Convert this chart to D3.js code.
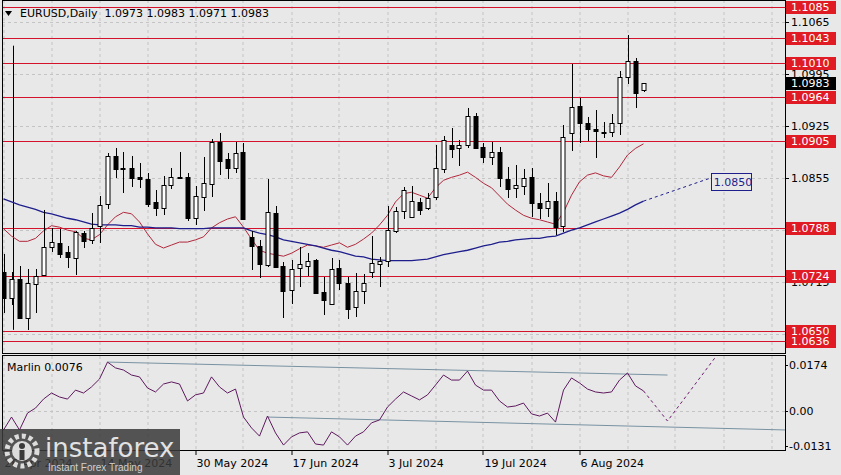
<!DOCTYPE html>
<html>
<head>
<meta charset="utf-8">
<style>
  body { margin: 0; background: #e8e8e8; }
  svg { display: block; font-family: "DejaVu Sans", sans-serif; }
  .axis text { font-size: 11px; }
</style>
<script src="https://d3js.org/d3.v7.min.js"></script>
</head>
<body>
<svg width="841" height="475"></svg>
<script>
// EURUSD daily, 26 Apr 2024 .. 16 Aug 2024 (one entry per bar)
var opens  = [1.0729,1.0694,1.0720,1.0667,1.0713,1.0725,1.0762,1.0768,1.0756,1.0748,1.0781,1.0772,1.0791,1.0820,1.0885,1.0869,1.0869,1.0856,1.0854,1.0823,
              1.0815,1.0846,1.0857,1.0856,1.0801,1.0829,1.0847,1.0904,1.0881,1.0869,1.0890,1.0776,1.0764,1.0738,1.0808,1.0737,1.0705,1.0734,1.0737,1.0745,
              1.0702,1.0686,1.0734,1.0714,1.0682,1.0703,1.0729,1.0740,1.0744,1.0784,1.0811,1.0803,1.0823,1.0815,1.0830,1.0867,1.0899,1.0895,1.0899,1.0938,
              1.0897,1.0883,1.0890,1.0854,1.0842,1.0844,1.0856,1.0822,1.0815,1.0824,1.0791,1.0916,1.0952,1.0929,1.0921,1.0917,1.0917,1.0929,1.0991,1.1012,1.0973];
var highs  = [1.0753,1.0729,1.0737,1.0733,1.0733,1.0812,1.0788,1.0787,1.0764,1.0784,1.0784,1.0808,1.0831,1.0889,1.0895,1.0890,1.0885,1.0875,1.0862,1.0839,
              1.0858,1.0869,1.0890,1.0862,1.0844,1.0883,1.0908,1.0916,1.0889,1.0904,1.0902,1.0784,1.0772,1.0854,1.0817,1.0742,1.0745,1.0762,1.0754,1.0746,
              1.0722,1.0748,1.0745,1.0722,1.0727,1.0726,1.0777,1.0749,1.0817,1.0816,1.0843,1.0844,1.0828,1.0835,1.0899,1.0912,1.0922,1.0906,1.0949,1.0943,
              1.0902,1.0904,1.0897,1.0870,1.0873,1.0867,1.0869,1.0835,1.0848,1.0836,1.0926,1.1008,1.0963,1.0937,1.0947,1.0930,1.0941,1.0999,1.1047,1.1016,1.0983];
var lows   = [1.0674,1.0684,1.0666,1.0651,1.0674,1.0725,1.0756,1.0748,1.0734,1.0725,1.0761,1.0766,1.0768,1.0813,1.0855,1.0835,1.0843,1.0842,1.0816,1.0804,
              1.0805,1.0840,1.0855,1.0797,1.0792,1.0811,1.0830,1.0859,1.0854,1.0862,1.0799,1.0731,1.0721,1.0735,1.0735,1.0667,1.0686,1.0709,1.0723,1.0701,
              1.0671,1.0684,1.0705,1.0666,1.0668,1.0686,1.0721,1.0709,1.0735,1.0781,1.0800,1.0801,1.0805,1.0812,1.0826,1.0862,1.0882,1.0871,1.0895,1.0894,
              1.0875,1.0873,1.0843,1.0828,1.0828,1.0832,1.0803,1.0800,1.0803,1.0779,1.0783,1.0891,1.0902,1.0905,1.0882,1.0909,1.0910,1.0913,1.0981,1.0949,1.0971];
var closes = [1.0694,1.0719,1.0667,1.0714,1.0723,1.0762,1.0769,1.0753,1.0749,1.0783,1.0770,1.0788,1.0819,1.0885,1.0867,1.0868,1.0855,1.0854,1.0820,1.0815,
              1.0846,1.0856,1.0856,1.0801,1.0831,1.0848,1.0904,1.0878,1.0869,1.0889,1.0800,1.0764,1.0740,1.0809,1.0735,1.0703,1.0733,1.0740,1.0744,1.0701,
              1.0691,1.0733,1.0714,1.0679,1.0703,1.0714,1.0741,1.0744,1.0785,1.0811,1.0839,1.0824,1.0812,1.0828,1.0869,1.0906,1.0894,1.0899,1.0938,1.0895,
              1.0883,1.0890,1.0855,1.0840,1.0846,1.0855,1.0822,1.0815,1.0824,1.0789,1.0910,1.0951,1.0929,1.0921,1.0918,1.0916,1.0929,1.0991,1.1012,1.0969,1.0983];

// fast moving average (red) and slow moving average (blue)
var fastMa = [1.0787,1.0777,1.0770,1.0770,1.0774,1.0784,1.0791,1.0789,1.0785,1.0783,1.0774,1.0772,1.0779,1.0792,1.0803,1.0809,1.0807,1.0796,1.0780,1.0766,
              1.0761,1.0765,1.0769,1.0769,1.0772,1.0776,1.0788,1.0795,1.0800,1.0803,1.0789,1.0773,1.0758,1.0754,1.0752,1.0750,1.0754,1.0760,1.0765,1.0764,
              1.0762,1.0765,1.0768,1.0762,1.0766,1.0773,1.0781,1.0792,1.0805,1.0823,1.0834,1.0836,1.0832,1.0828,1.0842,1.0852,1.0856,1.0859,1.0863,1.0856,
              1.0848,1.0842,1.0831,1.0820,1.0812,1.0805,1.0801,1.0799,1.0796,1.0793,1.0809,1.0832,1.0850,1.0859,1.0862,1.0858,1.0856,1.0870,1.0886,1.0895,1.0901];
var slowMa = [1.0827,1.0823,1.0819,1.0816,1.0813,1.0809,1.0807,1.0804,1.0801,1.0799,1.0796,1.0793,1.0792,1.0792,1.0792,1.0791,1.0791,1.0789,1.0789,1.0788,
              1.0788,1.0788,1.0787,1.0787,1.0787,1.0787,1.0788,1.0788,1.0788,1.0788,1.0788,1.0784,1.0781,1.0779,1.0776,1.0772,1.0770,1.0768,1.0766,1.0764,
              1.0761,1.0758,1.0756,1.0753,1.0750,1.0749,1.0746,1.0745,1.0744,1.0744,1.0744,1.0744,1.0745,1.0746,1.0749,1.0752,1.0754,1.0756,1.0758,1.0761,
              1.0764,1.0766,1.0769,1.0770,1.0772,1.0773,1.0774,1.0774,1.0776,1.0777,1.0781,1.0785,1.0788,1.0792,1.0796,1.0800,1.0804,1.0808,1.0813,1.0819,1.0824];
var slowForecastBars = [80, 87, 90];
var slowForecast = [1.0824, 1.0850, 1.0861];
var targetLabel = "1.0850";

// Marlin oscillator
var marlin = [-0.0072,-0.0023,-0.0072,-0.0008,0.0011,0.0045,0.0068,0.0053,0.0045,0.0079,0.0068,0.0091,0.0121,0.0185,0.0163,0.0155,0.0136,0.0129,0.0087,0.0072,
              0.0102,0.0110,0.0102,0.0038,0.0061,0.0068,0.0129,0.0091,0.0068,0.0083,-0.0023,-0.0064,-0.0095,-0.0019,-0.0083,-0.0129,-0.0098,-0.0083,-0.0079,-0.0125,
              -0.0129,-0.0079,-0.0098,-0.0129,-0.0095,-0.0079,-0.0045,-0.0034,0.0015,0.0045,0.0072,0.0057,0.0042,0.0061,0.0098,0.0136,0.0117,0.0117,0.0151,0.0098,
              0.0079,0.0079,0.0038,0.0015,0.0019,0.0030,-0.0011,-0.0019,-0.0008,-0.0042,0.0079,0.0125,0.0106,0.0083,0.0072,0.0068,0.0072,0.0117,0.0144,0.0095,0.0076];
var marlinForecastBars = [80, 83, 89];
var marlinForecast = [0.0076, -0.0038, 0.0204];
var upperChannelBars = [13, 83], upperChannel = [0.0185, 0.0136];
var lowerChannelBars = [33, 98], lowerChannel = [-0.0023, -0.0072];

var levels = [1.1085, 1.1043, 1.1010, 1.0964, 1.0905, 1.0788, 1.0724, 1.0650, 1.0636];
var priceTicks = [1.1065, 1.0995, 1.0925, 1.0855, 1.0785, 1.0715, 1.0645];
var marlinTicks = [0.0174, 0, -0.0131];
var dateBars = [0, 12, 24, 36, 48, 60, 72];
var dateLabels = ["26 Apr 2024", "14 May 2024", "30 May 2024", "17 Jun 2024", "3 Jul 2024", "19 Jul 2024", "6 Aug 2024"];
var marker = {bar: 1.125, top: 1.1033, bottom: 1.0651};
var lastPrice = 1.0983;

var svg = d3.select("svg");
var L = 2, R = 785, mainTop = 0, mainBottom = 353, indTop = 356, indBottom = 451;

var x = d3.scaleLinear().domain([0, 100]).range([3.5, 803.5]);
var y = d3.scaleLinear().domain([1.1085, 1.0636]).range([7, 341]);
var ym = d3.scaleLinear().domain([0.0174, -0.0131]).range([365, 445.6]);
var px = function(v) { return Math.round(v) + 0.5; };

svg.append("rect").attr("width", 841).attr("height", 475).attr("fill", "#e8e8e8");

svg.append("defs").call(function(d) {
  d.append("clipPath").attr("id", "cm").append("rect")
    .attr("x", L).attr("y", mainTop).attr("width", R - L).attr("height", mainBottom - mainTop);
  d.append("clipPath").attr("id", "ci").append("rect")
    .attr("x", L).attr("y", indTop).attr("width", R - L).attr("height", indBottom - indTop);
});

var gridBars = d3.range(0, 98, 6);
var main = svg.append("g").attr("clip-path", "url(#cm)");
var ind = svg.append("g").attr("clip-path", "url(#ci)");

// grids
[[main, mainTop, mainBottom], [ind, indTop, indBottom]].forEach(function(p) {
  p[0].selectAll(null).data(gridBars).join("line")
    .attr("x1", function(b) { return px(x(b)) - 0.5; }).attr("x2", function(b) { return px(x(b)) - 0.5; })
    .attr("y1", p[1]).attr("y2", p[2])
    .attr("stroke", "#c4c4c4").attr("stroke-dasharray", "3,3");
});
main.selectAll(null).data(priceTicks).join("line")
  .attr("x1", L).attr("x2", R).attr("y1", function(v) { return px(y(v)); }).attr("y2", function(v) { return px(y(v)); })
  .attr("stroke", "#c4c4c4").attr("stroke-dasharray", "3,3");
ind.append("line").attr("x1", L).attr("x2", R).attr("y1", px(ym(0))).attr("y2", px(ym(0)))
  .attr("stroke", "#c4c4c4").attr("stroke-dasharray", "3,3");

// support / resistance levels
main.selectAll(null).data(levels).join("line")
  .attr("x1", L).attr("x2", R).attr("y1", function(v) { return px(y(v)); }).attr("y2", function(v) { return px(y(v)); })
  .attr("stroke", "#d4122c").attr("stroke-width", 1).attr("shape-rendering", "crispEdges");

// vertical marker
main.append("line").attr("x1", px(x(marker.bar))).attr("x2", px(x(marker.bar)))
  .attr("y1", y(marker.top)).attr("y2", y(marker.bottom)).attr("stroke", "#000");

// moving averages
var bars = d3.range(opens.length);
main.append("path").datum(bars)
  .attr("d", d3.line().x(function(i) { return x(i); }).y(function(i) { return y(fastMa[i]); }))
  .attr("fill", "none").attr("stroke", "#b0283c").attr("stroke-width", 1);
main.append("path").datum(bars)
  .attr("d", d3.line().x(function(i) { return x(i); }).y(function(i) { return y(slowMa[i]); }))
  .attr("fill", "none").attr("stroke", "#1e1e8c").attr("stroke-width", 1.3);
main.append("path").datum(d3.range(slowForecastBars.length))
  .attr("d", d3.line().x(function(k) { return x(slowForecastBars[k]); }).y(function(k) { return y(slowForecast[k]); }))
  .attr("fill", "none").attr("stroke", "#1e1e8c").attr("stroke-dasharray", "3,3");

// candles
var cg = main.append("g");
cg.selectAll("line").data(bars).join("line")
  .attr("x1", function(i) { return px(x(i)); }).attr("x2", function(i) { return px(x(i)); })
  .attr("y1", function(i) { return Math.round(y(highs[i])); }).attr("y2", function(i) { return Math.round(y(lows[i])); })
  .attr("stroke", "#000");
cg.selectAll("rect").data(bars).join("rect")
  .attr("x", function(i) { return px(x(i)) - 2.5; })
  .attr("y", function(i) { return Math.round(y(Math.max(opens[i], closes[i]))) + 0.5; })
  .attr("width", 4)
  .attr("height", function(i) { return Math.max(1, Math.round(y(Math.min(opens[i], closes[i]))) - Math.round(y(Math.max(opens[i], closes[i])))); })
  .attr("fill", function(i) { return closes[i] >= opens[i] ? "#fff" : "#000"; })
  .attr("stroke", "#000");

// target label
var tx = x(88.4), ty = y(1.0850);
main.append("rect").attr("x", px(tx)).attr("y", px(ty - 9)).attr("width", 40).attr("height", 17)
  .attr("fill", "#e8e8e8").attr("stroke", "#1e1e8c");
main.append("text").attr("x", tx + 3).attr("y", ty + 4.5).attr("font-size", 11).attr("fill", "#1e1e8c").text(targetLabel);

// header
svg.append("path").attr("d", "M5,11 L12,11 L8.5,16 Z").attr("fill", "#000");
svg.append("text").attr("x", 20).attr("y", 17).attr("font-size", 11).attr("fill", "#000")
  .attr("xml:space", "preserve")
  .text("EURUSD,Daily  " + [opens[80], highs[80], lows[80], closes[80]].map(function(v) { return v.toFixed(4); }).join(" "));

// indicator
ind.selectAll(null).data([[upperChannelBars, upperChannel], [lowerChannelBars, lowerChannel]]).join("line")
  .attr("x1", function(c) { return x(c[0][0]); }).attr("x2", function(c) { return x(c[0][1]); })
  .attr("y1", function(c) { return ym(c[1][0]); }).attr("y2", function(c) { return ym(c[1][1]); })
  .attr("stroke", "#7892a2").attr("stroke-width", 1);
ind.append("path").datum(bars)
  .attr("d", d3.line().x(function(i) { return x(i); }).y(function(i) { return ym(marlin[i]); }))
  .attr("fill", "none").attr("stroke", "#5e1a5e").attr("stroke-width", 1);
ind.append("path").datum(d3.range(marlinForecastBars.length))
  .attr("d", d3.line().x(function(k) { return x(marlinForecastBars[k]); }).y(function(k) { return ym(marlinForecast[k]); }))
  .attr("fill", "none").attr("stroke", "#6a1a6a").attr("stroke-dasharray", "3,3");
svg.append("text").attr("x", 7).attr("y", 371).attr("font-size", 11).attr("fill", "#000")
  .text("Marlin " + marlin[marlin.length - 1].toFixed(4));

// frames
svg.append("rect").attr("x", L + 0.5).attr("y", mainTop + 0.5).attr("width", R - L).attr("height", mainBottom - mainTop)
  .attr("fill", "none").attr("stroke", "#000");
svg.append("rect").attr("x", L + 0.5).attr("y", indTop - 0.5).attr("width", R - L).attr("height", indBottom - indTop)
  .attr("fill", "none").attr("stroke", "#000");

// price axis
var ax = svg.append("g").attr("class", "axis");
ax.selectAll("line.t").data(priceTicks).join("line").attr("class", "t")
  .attr("x1", R + 1).attr("x2", R + 4).attr("y1", function(v) { return px(y(v)); }).attr("y2", function(v) { return px(y(v)); })
  .attr("stroke", "#000");
ax.selectAll("text.t").data(priceTicks).join("text").attr("class", "t")
  .attr("x", R + 6).attr("y", function(v) { return y(v) + 4; }).attr("fill", "#000")
  .text(function(v) { return v.toFixed(4); });
var lv = ax.selectAll("g.lv").data(levels).join("g").attr("class", "lv");
lv.append("rect").attr("x", R + 1).attr("y", function(v) { return Math.round(y(v)) - 6; })
  .attr("width", 50).attr("height", 13).attr("fill", "#e01b24");
lv.append("text").attr("x", R + 6).attr("y", function(v) { return y(v) + 4; }).attr("fill", "#fff")
  .text(function(v) { return v.toFixed(4); });
ax.append("rect").attr("x", R + 1).attr("y", Math.round(y(lastPrice)) - 6).attr("width", 50).attr("height", 13).attr("fill", "#000");
ax.append("text").attr("x", R + 6).attr("y", y(lastPrice) + 4).attr("fill", "#fff").text(lastPrice.toFixed(4));

// indicator axis
ax.selectAll("text.m").data(marlinTicks).join("text").attr("class", "m")
  .attr("x", R + 4).attr("y", function(v) { return ym(v) + 4; }).attr("fill", "#000")
  .text(function(v) { return v === 0 ? "0.00" : v.toFixed(4); });
ax.selectAll("line.m").data(marlinTicks).join("line").attr("class", "m")
  .attr("x1", R + 1).attr("x2", R + 3).attr("y1", function(v) { return px(ym(v)); }).attr("y2", function(v) { return px(ym(v)); })
  .attr("stroke", "#000");

// date axis
ax.selectAll("line.d").data(dateBars).join("line").attr("class", "d")
  .attr("x1", function(b) { return px(x(b)) - 0.5; }).attr("x2", function(b) { return px(x(b)) - 0.5; })
  .attr("y1", indBottom).attr("y2", indBottom + 4).attr("stroke", "#000");
ax.selectAll("text.d").data(dateBars).join("text").attr("class", "d")
  .attr("x", function(b) { return x(b) + 1; }).attr("y", 467).attr("fill", "#000")
  .text(function(b, k) { return dateLabels[k]; });

// watermark
var wm = svg.append("g");
wm.append("rect").attr("x", 0).attr("y", 429).attr("width", 180).attr("height", 46).attr("fill", "#3a3a3a").attr("opacity", 0.86);
wm.append("circle").attr("cx", 22).attr("cy", 451).attr("r", 15).attr("fill", "none")
  .attr("stroke", "#dcdcdc").attr("stroke-width", 5).attr("stroke-dasharray", "4,3");
wm.append("circle").attr("cx", 22).attr("cy", 451).attr("r", 10).attr("fill", "#dcdcdc");
wm.append("circle").attr("cx", 22).attr("cy", 446).attr("r", 3).attr("fill", "#3a3a3a");
wm.append("rect").attr("x", 19.5).attr("y", 450).attr("width", 5).attr("height", 10).attr("fill", "#3a3a3a");
wm.append("text").attr("x", 45).attr("y", 457).attr("font-size", 26).attr("fill", "#e2e2e2").text("instaforex");
wm.append("text").attr("x", 48).attr("y", 471).attr("font-size", 10).attr("font-family", "Liberation Sans, sans-serif")
  .attr("fill", "#d0d0d0").text("Instant Forex Trading");
</script>
</body>
</html>
